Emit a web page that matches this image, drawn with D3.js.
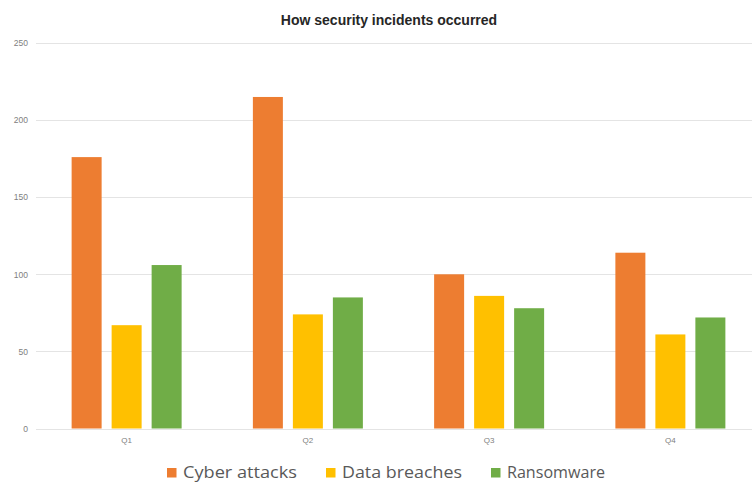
<!DOCTYPE html>
<html>
<head>
<meta charset="utf-8">
<script src="https://cdn.jsdelivr.net/npm/d3@7"></script>
<style>
  body { margin: 0; background: #fff; }
  svg { display: block; }
</style>
</head>
<body>
<div class="chart"></div>
<script>
// data
const quarters = ["Q1", "Q2", "Q3", "Q4"];
const seriesNames = ["Cyber attacks", "Data breaches", "Ransomware"];
const cyberAttacks = [176, 215, 100, 114];
const dataBreaches = [67, 74, 86, 61];
const ransomware = [106, 85, 78, 72];
const yTicks = [0, 50, 100, 150, 200, 250];
const colors = ["#ED7D31", "#FFC000", "#70AD47"];

const seriesValues = [cyberAttacks, dataBreaches, ransomware];
const rows = quarters.map((q, i) => ({
  q: q,
  vals: seriesNames.map((s, j) => ({ name: s, value: seriesValues[j][i] }))
}));

const width = 752, height = 482;

const svg = d3.select(".chart")
              .append("svg")
              .attr("width", width)
              .attr("height", height);

const x0 = d3.scaleBand()
             .domain(quarters)
             .range([36, 761]);

const x1 = d3.scaleBand()
             .domain(seriesNames)
             .range([0, 110])
             .paddingInner(0.25);

const y = d3.scaleLinear()
            .domain([0, 250])
            .range([428.5, 43]);

// gridlines
svg.append("g")
   .attr("class", "grid")
   .selectAll("line")
   .data(yTicks).enter()
   .append("line")
   .attr("x1", 36)
   .attr("x2", width)
   .attr("y1", d => Math.round(y(d)) + 0.5)
   .attr("y2", d => Math.round(y(d)) + 0.5)
   .attr("stroke", "#e4e4e4")
   .attr("stroke-width", 1.2);

// y axis labels
const yAxis = svg.append("g")
                 .attr("class", "y-axis")
                 .attr("transform", "translate(28, 0)")
                 .call(d3.axisLeft(y).tickValues(yTicks).tickSize(0).tickPadding(0));
yAxis.select(".domain").remove();
yAxis.selectAll("text")
     .attr("fill", "#808080")
     .style("font-family", "Liberation Sans, Arial, sans-serif")
     .style("font-size", "8.5px");

// x axis labels
const xAxis = svg.append("g")
                 .attr("class", "x-axis")
                 .attr("transform", "translate(0, 437)")
                 .call(d3.axisBottom(x0).tickSize(0).tickPadding(0));
xAxis.select(".domain").remove();
xAxis.selectAll("text")
     .attr("fill", "#808080")
     .style("font-family", "Liberation Sans, Arial, sans-serif")
     .style("font-size", "8px");

// bars
const groups = svg.selectAll(".group")
                  .data(rows).enter()
                  .append("g")
                  .attr("class", "group")
                  .attr("transform", d => "translate(" + (x0(d.q) + (x0.bandwidth() - 110) / 2) + ",0)");

groups.selectAll("rect")
      .data(d => d.vals).enter()
      .append("rect")
      .attr("x", d => x1(d.name))
      .attr("y", d => y(d.value))
      .attr("width", x1.bandwidth())
      .attr("height", d => y(0) - y(d.value))
      .attr("fill", (d, i) => colors[i]);

// title
svg.append("text")
   .text("How security incidents occurred")
   .attr("x", 389)
   .attr("y", 25)
   .attr("text-anchor", "middle")
   .attr("fill", "#262626")
   .style("font-family", "Liberation Sans, Arial, sans-serif")
   .style("font-weight", "bold")
   .style("font-size", "14px");

// legend
const legendX = [167, 326, 491];
const legend = svg.selectAll(".legend")
                  .data(seriesNames).enter()
                  .append("g")
                  .attr("class", "legend")
                  .attr("transform", (d, i) => "translate(" + legendX[i] + ", 468)");

legend.append("rect")
      .attr("width", 9.5)
      .attr("height", 9.5)
      .attr("fill", (d, i) => colors[i]);

legend.append("text")
      .text(d => d)
      .attr("x", 16)
      .attr("y", 10)
      .attr("fill", "#595959")
      .attr("textLength", (d, i) => [114, 120, 98][i])
      .attr("lengthAdjust", "spacingAndGlyphs")
      .style("font-family", "'Open Sans', sans-serif")
      .style("font-size", "17px");
</script>
</body>
</html>
